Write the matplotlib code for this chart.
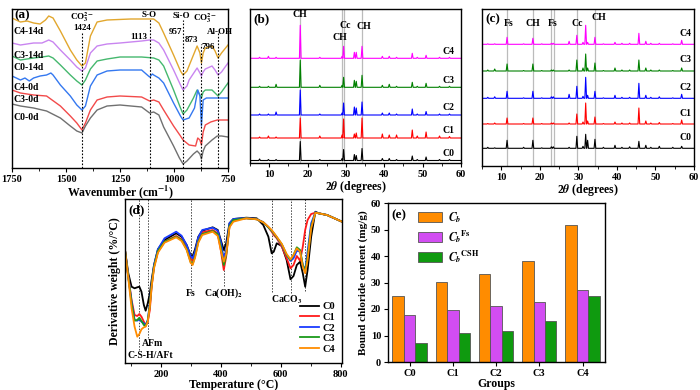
import matplotlib
matplotlib.use("Agg")
import matplotlib.pyplot as plt
import numpy as np
from matplotlib.ticker import MultipleLocator

plt.rcParams['font.family'] = ['Liberation Serif', 'DejaVu Serif']
plt.rcParams['font.weight'] = 'bold'
plt.rcParams['axes.labelweight'] = 'bold'
plt.rcParams['mathtext.fontset'] = 'stix'
plt.rcParams['axes.linewidth'] = 1.0

# ---------------- (a) FTIR ----------------
ftir_labels = ['C4-14d', 'C3-14d', 'C0-14d', 'C4-0d', 'C3-0d', 'C0-0d']
ftir_colors = ['#E2A72E', '#C985F0', '#45B86E', '#3478F0', '#F24A4A', '#707070']

wn_c4_14 = [1750, 1711, 1680, 1650, 1620, 1595, 1580, 1560, 1526, 1480, 1450, 1426, 1410, 1387, 1356, 1310,
            1200, 1094, 1070, 1048, 1002, 970, 958, 940, 910, 893, 880, 873, 865, 855, 824, 810, 796, 780, 750]
ab_c4_14 = [150, 146, 147, 145, 144, 148, 152, 150, 137, 118, 108, 102, 105, 132, 146, 148,
            149, 149, 145, 135, 113, 97, 93, 97, 113, 122, 115, 105, 115, 120, 122, 117, 110, 115, 123]

wn_c3_14 = [1750, 1711, 1650, 1611, 1590, 1580, 1560, 1526, 1480, 1450, 1426, 1410, 1387, 1356, 1310, 1250,
            1150, 1113, 1094, 1070, 1048, 1002, 970, 958, 940, 930, 893, 880, 873, 865, 855, 824, 810, 796, 780, 750]
ab_c3_14 = [125, 123, 125, 125, 127, 128, 126, 118, 108, 101, 97, 100, 115, 122, 124, 125,
            127, 128, 128, 125, 118, 98, 83, 78, 82, 88, 100, 95, 92, 96, 99, 102, 98, 93, 96, 105]

wn_c0_14 = [1750, 1711, 1650, 1611, 1580, 1560, 1526, 1480, 1450, 1426, 1410, 1387, 1356, 1310, 1250, 1150,
            1094, 1070, 1048, 1002, 970, 958, 940, 910, 893, 880, 873, 865, 855, 824, 796, 780, 750]
ab_c0_14 = [112, 108, 110, 111, 112, 110, 103, 93, 87, 83, 88, 99, 107, 109, 111, 111,
            110, 108, 102, 78, 60, 54, 58, 70, 78, 73, 70, 76, 78, 78, 72, 76, 85]

wn_c4_0 = [1750, 1730, 1711, 1690, 1670, 1650, 1620, 1590, 1570, 1560, 1526, 1480, 1450, 1426, 1410, 1387,
           1356, 1310, 1250, 1150, 1113, 1100, 1094, 1070, 1048, 1002, 970, 958, 930, 905, 890, 880, 873,
           865, 850, 824, 796, 750]
ab_c4_0 = [92, 90, 88, 90, 87, 90, 92, 93, 95, 93, 83, 72, 63, 58, 62, 82,
           93, 97, 98, 98, 91, 94, 93, 90, 85, 65, 52, 48, 50, 60, 78, 72, 42,
           68, 70, 70, 70, 70]

wn_c3_0 = [1750, 1711, 1650, 1590, 1526, 1480, 1450, 1426, 1410, 1387, 1356, 1310, 1250, 1150, 1113, 1094,
           1070, 1048, 1002, 970, 958, 930, 900, 890, 880, 873, 865, 855, 830, 800, 780, 750]
ab_c3_0 = [78, 75, 73, 72, 62, 52, 45, 38, 45, 58, 68, 71, 72, 71, 67, 68,
           66, 58, 42, 32, 28, 23, 22, 30, 28, 23, 36, 43, 46, 48, 48, 48]

wn_c0_0 = [1750, 1711, 1650, 1590, 1526, 1480, 1450, 1426, 1410, 1387, 1356, 1310, 1250, 1150, 1113, 1094,
           1070, 1048, 1002, 975, 958, 940, 910, 893, 880, 873, 865, 855, 824, 800, 780, 750]
ab_c0_0 = [64, 62, 60, 57, 50, 42, 37, 35, 42, 50, 58, 62, 63, 61, 55, 56,
           53, 41, 22, 10, 4, 7, 14, 17, 14, 9, 17, 22, 28, 32, 32, 31]

ftir_bands = [1424, 1113, 957, 873, 796]
ftir_band_tops = [136, 149, 148, 124, 135]

# ---------------- (b), (c) XRD ----------------
xrd_names = ['C0', 'C1', 'C2', 'C3', 'C4']
xrd_colors = ['black', '#FF0000', '#0000FF', '#008000', '#FF00FF']

b_pos = [7.5, 9.8, 11.8, 18.1, 23.2, 29.0, 29.4, 32.2, 32.7, 34.2, 39.5, 41.3, 43.2, 47.3, 48.6, 50.9, 54.4, 57.0]
b_h_c0 = [1.5, 1, 1, 19, 1, 2, 11, 6, 5, 12, 2, 2, 1, 4.5, 1, 3.5, 1, 1]
b_h_c1 = [1, 2, 1, 20, 2, 3, 19, 4, 5, 20, 4, 3, 3, 8, 2, 6, 2, 1.5]
b_h_c2 = [1, 1, 3, 25, 1, 2, 12, 8, 7, 13, 2, 2, 1, 6, 1, 3.5, 1, 1]
b_h_c3 = [1, 1, 3, 27, 2, 2, 10, 7, 6, 12, 2, 3, 1, 5, 1, 4, 1, 1]
b_h_c4 = [1, 2, 1, 33, 1, 2, 12, 6, 6, 12, 2, 2, 1, 5, 1, 3, 1, 1]
b_base = [2.5, 25, 48, 75.7, 104.7]
b_lines = [18.1, 29.0, 29.5, 34.2]

c_pos = [6.5, 8.3, 11.5, 15.8, 18.2, 20.5, 23.0, 23.5, 27.6, 29.6, 31.2, 31.9, 32.4, 34.3, 36.5,
         39.5, 41.3, 43.3, 45.7, 47.5, 48.8, 51.0, 54.5, 56.8]
c_h_c0 = [1, 0.5, 8, 1, 8, 0.5, 1.5, 1.5, 1, 12, 2, 14, 8, 9, 1, 3, 1, 1.5, 7, 3, 1, 2, 1, 2]
c_h_c1 = [0.5, 1, 6, 0.5, 6, 0.5, 1, 1, 1, 10, 2, 21, 3, 7, 0.5, 2, 1, 1, 16, 3, 1, 1.5, 0.5, 4]
c_h_c2 = [1, 1.5, 7, 0.5, 7, 0.5, 1.5, 1.5, 4, 12, 2, 21, 3, 7, 0.5, 3, 1, 1, 15, 3, 1, 1.5, 0.5, 4]
c_h_c3 = [1, 2, 7, 0.5, 7, 0.5, 1, 1, 1, 11, 3, 17, 3, 8, 0.5, 3, 1, 1, 11, 3, 1, 1, 0.5, 3]
c_h_c4 = [0.5, 0.5, 7, 0.5, 6, 0.5, 1, 1, 3, 9, 2, 19, 2, 7, 0.5, 2, 1, 1, 11, 3, 1, 1, 0.5, 4]
c_base = [17.7, 42, 67.7, 95, 121.7]
c_lines = [11.6, 18.3, 22.9, 23.6, 29.7, 34.2]

# ---------------- (d) DTG ----------------
temp = [80, 91, 102, 112, 121, 128, 135, 143, 149, 156, 163, 169, 177, 190, 212, 251, 269, 286, 299, 306,
        314, 325, 338, 373, 390, 400, 410, 418, 429, 442, 485, 520, 542, 559, 570, 577, 587, 604, 620,
        633, 643, 654, 665, 674, 682, 690, 702, 716, 727, 755, 805]
dtg_c0 = [113, 89.7, 76.3, 74.7, 75.7, 76.3, 71.3, 58, 52.3, 59.7, 69.7, 83, 98, 113.7, 123, 129.7, 126.3,
          118, 108, 107, 113.7, 126.3, 132.3, 135.7, 133, 123, 113, 119.7, 139.7, 144, 145.3, 144.7, 138,
          126.3, 109.7, 111.3, 119.7, 117, 103, 83.7, 87, 98, 101.3, 89.7, 76.3, 93, 126.3, 151.3, 149.7,
          148, 141.3]
dtg_c1 = [113, 86.3, 63, 48, 47, 49, 46.3, 41.3, 38, 41.3, 53, 76.3, 96.3, 111.3, 121.3, 127, 123.7,
          114.7, 104.7, 102, 109.7, 123.7, 130.7, 133, 129.7, 113, 93, 106.3, 136.3, 143, 144.7, 143.7,
          140.7, 135.7, 131.3, 128, 124.7, 116.3, 104.7, 94.7, 98, 107, 102.3, 116.3, 133, 143, 149,
          150.3, 149.7, 148, 141.3]
dtg_c2 = [113, 86.3, 61.3, 43, 42.3, 43.7, 41.3, 39.7, 38, 43, 59.7, 79.7, 98, 113.7, 124.7, 131.3, 127.3,
          118, 107, 104.7, 111.3, 125.7, 133, 135.3, 132.3, 121.3, 104.7, 113, 139.7, 144, 145, 144,
          140.7, 135.7, 132.3, 129.7, 125.7, 118, 108, 102, 104.7, 112.3, 111.3, 98, 93, 111.3, 139.7,
          150.7, 149.7, 148, 141.3]
dtg_c3 = [113, 85.7, 59.7, 42.3, 43, 45.3, 42, 38, 37, 42.3, 58, 78, 96.3, 112, 121.3, 126.3, 123,
          113.7, 101.3, 99, 106.3, 121.3, 129, 132, 128.7, 116.3, 98, 108, 137, 143, 144.7, 143.7,
          140.7, 135.7, 132.3, 129.7, 125.7, 118.7, 108, 103, 108, 115.7, 113, 98, 91.3, 106.3, 136.3,
          150.3, 149.7, 148, 141.3]
dtg_c4 = [113, 84.7, 54.7, 36.3, 26.3, 29, 33.7, 35.7, 36.3, 41.3, 56.3, 76.3, 94.7, 110.3, 120.3, 125.7,
          122, 113, 100.3, 98, 105.3, 120.3, 128, 131.3, 127, 113, 101.3, 109, 135.7, 141.3, 144.7, 143.7,
          140.7, 136.3, 133, 130.3, 126.3, 119, 109, 103.7, 108, 114.7, 111.3, 96.3, 89.7, 103, 134.7,
          150.3, 149.7, 148, 141.3]
dtg_colors = ['black', '#FF1A1A', '#1A3CFF', '#1A9A1A', '#FF8C00']
dtg_marks = [128, 156, 300, 410, 570, 633, 682]
dtg_mark_bottom = [13, 25, 77, 77, 71, 70, 72]

# ---------------- (e) bound chloride ----------------
groups = ['C0', 'C1', 'C2', 'C3', 'C4']
cb_total = [24.8, 30.2, 33.2, 38.0, 51.6]
cb_fs = [17.8, 19.5, 21.3, 22.5, 27.0]
cb_csh = [7.0, 10.9, 11.8, 15.5, 24.8]


def px_axes(fig, left, right, top, bottom):
    W, H = 700, 390
    return fig.add_axes([left / W, (H - bottom) / H, (right - left) / W, (bottom - top) / H])


def spikes(positions, heights, base, width=0.22):
    xs, ys = [5.0], [base]
    for p, h in zip(positions, heights):
        xs += [p - width, p, p + width]
        ys += [base, base + h, base]
    xs.append(60.0)
    ys.append(base)
    return xs, ys


fig = plt.figure(figsize=(7, 3.9), dpi=100)
tick_kw = dict(labelsize=7.5, direction='out', length=3, width=0.8, pad=2)
xl_size = 8.5

# (a)
ax = px_axes(fig, 12, 228, 9, 168)
ftir = [(wn_c4_14, ab_c4_14), (wn_c3_14, ab_c3_14), (wn_c0_14, ab_c0_14),
        (wn_c4_0, ab_c4_0), (wn_c3_0, ab_c3_0), (wn_c0_0, ab_c0_0)]
label_y = [136, 113, 100, 80, 68, 51]
for (wn, ab), c, lab, ly in zip(ftir, ftir_colors, ftir_labels, label_y):
    ax.plot(wn, ab, color=c, lw=1.0)
    ax.text(1742, ly, lab, fontsize=7, va='center', ha='left')
for b, t in zip(ftir_bands, ftir_band_tops):
    ax.plot([b, b], [0, t], color='black', lw=0.8, ls=(0, (1.5, 1.5)))
ann = dict(fontsize=6.5, ha='center', va='center')
ax.text(1424, 151, r'CO$_3^{2-}$', **ann)
ax.text(1424, 140, '1424', **ann)
ax.text(1113, 153, 'S-O', **ann)
ax.text(1164, 131, '1113', **ann)
ax.text(968, 152, 'Si-O', **ann)
ax.text(858, 150, r'CO$_3^{2-}$', **ann)
ax.text(994, 136, '957', **ann)
ax.text(917, 128, '873', **ann)
ax.text(786, 136, 'Al-OH', **ann)
ax.text(840, 121, '796', **ann)
ax.text(1738, 153, '(a)', fontsize=9.5, ha='left', va='center')
ax.set_xlim(1750, 750)
ax.set_ylim(0, 159)
ax.set_yticks([])
ax.xaxis.set_major_locator(MultipleLocator(250))
ax.xaxis.set_minor_locator(MultipleLocator(125))
ax.tick_params(axis='x', **tick_kw)
ax.tick_params(axis='x', which='minor', direction='out', length=2)
ax.set_xlabel('Wavenumber (cm$^{-1}$)', fontsize=xl_size, labelpad=0)

# (b) and (c)
b_heights = [b_h_c0, b_h_c1, b_h_c2, b_h_c3, b_h_c4]
c_heights = [c_h_c0, c_h_c1, c_h_c2, c_h_c3, c_h_c4]
panels = [
    (250, 461, 9, 163, b_pos, b_heights, b_base, b_lines, 154, '(b)'),
    (482, 694, 9, 166, c_pos, c_heights, c_base, c_lines, 157, '(c)'),
]
for left, right, top, bottom, pos, heights, base, vl, ytop, tag in panels:
    ax = px_axes(fig, left, right, top, bottom)
    for x in vl:
        ax.axvline(x, color='#BBBBBB', lw=0.9, zorder=0)
    for name, h, b0, c in zip(xrd_names, heights, base, xrd_colors):
        xs, ys = spikes(pos, h, b0)
        ax.plot(xs, ys, color=c, lw=0.8)
    ax.set_xlim(5, 60)
    ax.set_ylim(0, ytop)
    ax.set_yticks([])
    ax.xaxis.set_major_locator(MultipleLocator(10))
    ax.xaxis.set_minor_locator(MultipleLocator(5))
    ax.tick_params(axis='x', **tick_kw)
    ax.tick_params(axis='x', which='minor', direction='out', length=2)
    ax.set_xlabel(r'2$\theta$ (degrees)', fontsize=xl_size, labelpad=0)
    ax.text(5.8, ytop - 10, tag, fontsize=9.5, ha='left', va='center')
    lab = dict(fontsize=7, ha='center', va='center')
    if tag == '(b)':
        for name, b0 in zip(xrd_names, base):
            ax.text(56.8, b0 + 7, name, **lab)
        ax.text(18.1, 148, 'CH', **lab)
        ax.text(29.8, 137, 'Cc', **lab)
        ax.text(28.5, 125, 'CH', **lab)
        ax.text(34.8, 136, 'CH', **lab)
    else:
        for name, b0 in zip(xrd_names, base):
            ax.text(57.8, b0 + 11, name, **lab)
        ax.text(11.8, 142, 'Fs', **lab)
        ax.text(18.3, 142, 'CH', **lab)
        ax.text(23.3, 142, 'Fs', **lab)
        ax.text(29.6, 142, 'Cc', **lab)
        ax.text(35.2, 149, 'CH', **lab)

# (d)
ax = px_axes(fig, 125, 342, 199, 363)
for t, yb in zip(dtg_marks, dtg_mark_bottom):
    ax.plot([t, t], [yb, 164], color='#444444', lw=0.7, ls=(0, (1.5, 1.5)))
for name, d, c in zip(xrd_names, [dtg_c0, dtg_c1, dtg_c2, dtg_c3, dtg_c4], dtg_colors):
    ax.plot(temp, d, color=c, lw=1.3, label=name)
lab = dict(fontsize=7, ha='center', va='center')
ax.text(300, 70, 'Fs', **lab)
ax.text(410, 70, r'Ca(OH)$_2$', **lab)
ax.text(622, 63, r'CaCO$_3$', **lab)
ax.text(173, 20, 'AFm', **lab)
ax.text(163, 8, 'C-S-H/AFt', **lab)
ax.text(90, 153, '(d)', fontsize=9.5, ha='left', va='center')
ax.legend(loc='lower right', bbox_to_anchor=(1.01, 0.0), frameon=False, fontsize=7.5,
          handlelength=1.8, labelspacing=0.12, handletextpad=0.3)
ax.set_xlim(80, 805)
ax.set_ylim(0, 164)
ax.set_yticks([])
ax.xaxis.set_major_locator(MultipleLocator(200))
ax.xaxis.set_minor_locator(MultipleLocator(100))
ax.tick_params(axis='x', **tick_kw)
ax.tick_params(axis='x', which='minor', direction='out', length=2)
ax.set_xlabel('Temperature (°C)', fontsize=xl_size, labelpad=0)
ax.set_ylabel('Derivative weight (%/°C)', fontsize=8.5, labelpad=3)

# (e)
ax = px_axes(fig, 388, 605, 203, 362)
x = np.arange(len(groups))
w = 0.265
ax.bar(x - w, cb_total, w, color='#FF8C00', edgecolor='#555555', lw=0.6, label=r'$C_b$')
ax.bar(x, cb_fs, w, color='#D24DF2', edgecolor='#555555', lw=0.6, label=r'$C_b$$^{\mathrm{Fs}}$')
ax.bar(x + w, cb_csh, w, color='#0F9A0F', edgecolor='#555555', lw=0.6, label=r'$C_b$$^{\mathrm{CSH}}$')
ax.set_xlim(-0.5, 4.52)
ax.set_ylim(0, 60)
ax.set_xticks(x)
ax.set_xticklabels(groups)
ax.yaxis.set_major_locator(MultipleLocator(10))
ax.tick_params(axis='both', **tick_kw)
ax.set_xlabel('Groups', fontsize=xl_size, labelpad=0)
ax.set_ylabel('Bound chloride content (mg/g)', fontsize=8, labelpad=2)
ax.text(-0.42, 55.5, '(e)', fontsize=9.5, ha='left', va='center')
ax.legend(loc='upper left', bbox_to_anchor=(0.09, 1.02), frameon=False, fontsize=8.5,
          handlelength=2.0, handleheight=0.9, labelspacing=0.25, handletextpad=0.5)

fig.savefig('out.png', dpi=100)
